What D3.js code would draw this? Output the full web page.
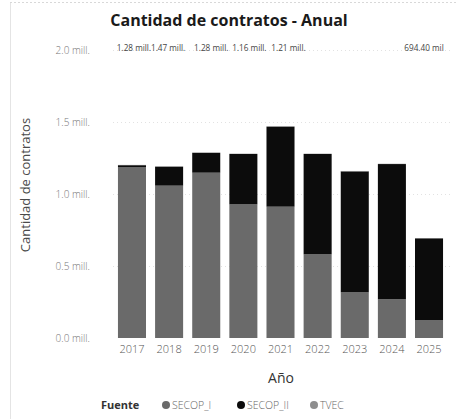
<!DOCTYPE html>
<html><head><meta charset="utf-8">
<script src="https://cdn.jsdelivr.net/npm/d3@7"></script>
<style>
html,body{margin:0;padding:0;background:#fff;}
svg{display:block;font-family:"Open Sans",sans-serif;}
</style></head>
<body>
<svg id="c" width="456" height="419"></svg>
<script>
const years = ["2017","2018","2019","2020","2021","2022","2023","2024","2025"];
const secopI  = [1.185, 1.058, 1.148, 0.928, 0.912, 0.581, 0.317, 0.269, 0.125];
const secopII = [0.015, 0.132, 0.138, 0.350, 0.556, 0.697, 0.840, 0.939, 0.567];
const tvec    = [0.002, 0.002, 0.002, 0.002, 0.002, 0.002, 0.003, 0.002, 0.002];
const seriesNames = ["SECOP_I","SECOP_II","TVEC"];
const seriesColors = ["#6a6a6a","#0c0c0c","#8e8e8e"];
const yTicks = [0, 0.5, 1.0, 1.5, 2.0];
const totalLabels = ["1.28 mill.","1.47 mill.","1.28 mill.","1.16 mill.","1.21 mill.","694.40 mil"];
const totalLabelYears = ["2017","2018","2019","2020","2021","2025"];
const totalLabelShift = [2, -1, 5, 6, 8, -5];

const svg = d3.select("#c");
const x = d3.scaleBand().domain(years).range([113.5, 447.5]).paddingInner(0.245).paddingOuter(0.12);
const y = d3.scaleLinear().domain([0, 2]).range([338, 50]);

// frame lines
svg.append("line").attr("x1",10).attr("x2",456).attr("y1",2.5).attr("y2",2.5)
  .attr("stroke","#d8d8d8").attr("stroke-dasharray","2,2");
svg.append("line").attr("x1",10.5).attr("x2",10.5).attr("y1",3).attr("y2",419)
  .attr("stroke","#e4e4e4");

// title
svg.append("text").attr("x",229).attr("y",26).attr("text-anchor","middle")
  .attr("font-size",16).attr("font-weight",700).attr("fill","#1a1a1a")
  .text("Cantidad de contratos - Anual");

// gridlines
svg.append("g").selectAll("line").data(yTicks.filter(d=>d>0)).join("line")
  .attr("x1",113).attr("x2",450).attr("y1",d=>y(d)+0.5).attr("y2",d=>y(d)+0.5)
  .attr("stroke","#e2e2e2").attr("stroke-dasharray","1,3");

// y axis
const yAxis = d3.axisLeft(y).tickValues(yTicks).tickSize(0).tickPadding(0)
  .tickFormat(d => d3.format(".1f")(d) + " mill.");
const gy = svg.append("g").attr("transform","translate(90,0)").call(yAxis);
gy.select(".domain").remove();
gy.selectAll("text").attr("font-size",10).attr("fill","#777")
  .attr("font-family","'Open Sans',sans-serif").attr("font-weight",300);

// x axis
const xAxis = d3.axisBottom(x).tickSize(0).tickPadding(0);
const gx = svg.append("g").attr("transform","translate(0,345)").call(xAxis);
gx.select(".domain").remove();
gx.selectAll("text").attr("font-size",11).attr("fill","#555")
  .attr("font-family","'Open Sans',sans-serif").attr("font-weight",300);

// stacked bars
const rows = years.map((yr,i)=>({year:yr, SECOP_I:secopI[i], SECOP_II:secopII[i], TVEC:tvec[i]}));
const stack = d3.stack().keys(seriesNames)(rows);
const color = d3.scaleOrdinal().domain(seriesNames).range(seriesColors);
svg.append("g").selectAll("g").data(stack).join("g").attr("fill",s=>color(s.key))
  .selectAll("rect").data(s=>s).join("rect")
  .attr("x",d=>x(d.data.year)).attr("width",x.bandwidth())
  .attr("y",d=>y(d[1])).attr("height",d=>Math.max(0,y(d[0])-y(d[1])));

// total labels
svg.append("g").selectAll("text").data(totalLabels).join("text")
  .attr("x",(d,i)=>x(totalLabelYears[i])+x.bandwidth()/2+totalLabelShift[i])
  .attr("y",51).attr("text-anchor","middle").attr("font-size",8.2)
  .attr("fill","#444").text(d=>d);

// axis titles
svg.append("text").attr("transform","translate(30,185) rotate(-90)")
  .attr("text-anchor","middle").attr("font-size",13).attr("fill","#4a4a4a")
  .text("Cantidad de contratos");
svg.append("text").attr("x",281).attr("y",383).attr("text-anchor","middle")
  .attr("font-size",14).attr("fill","#333").text("Año");

// legend
const lg = svg.append("g").attr("transform","translate(0,409)");
lg.append("text").attr("x",101).attr("y",0).attr("font-size",11).attr("font-weight",700)
  .attr("fill","#333").text("Fuente");
const legendX = [166, 241, 314];
const items = lg.selectAll("g.it").data(seriesNames).join("g").attr("class","it")
  .attr("transform",(d,i)=>`translate(${legendX[i]},0)`);
items.append("circle").attr("cx",0).attr("cy",-4).attr("r",4).attr("fill",d=>color(d));
items.append("text").attr("x",6).attr("y",0).attr("font-size",10.5).attr("fill","#666")
  .attr("font-weight",300).text(d=>d);
</script>
</body></html>
